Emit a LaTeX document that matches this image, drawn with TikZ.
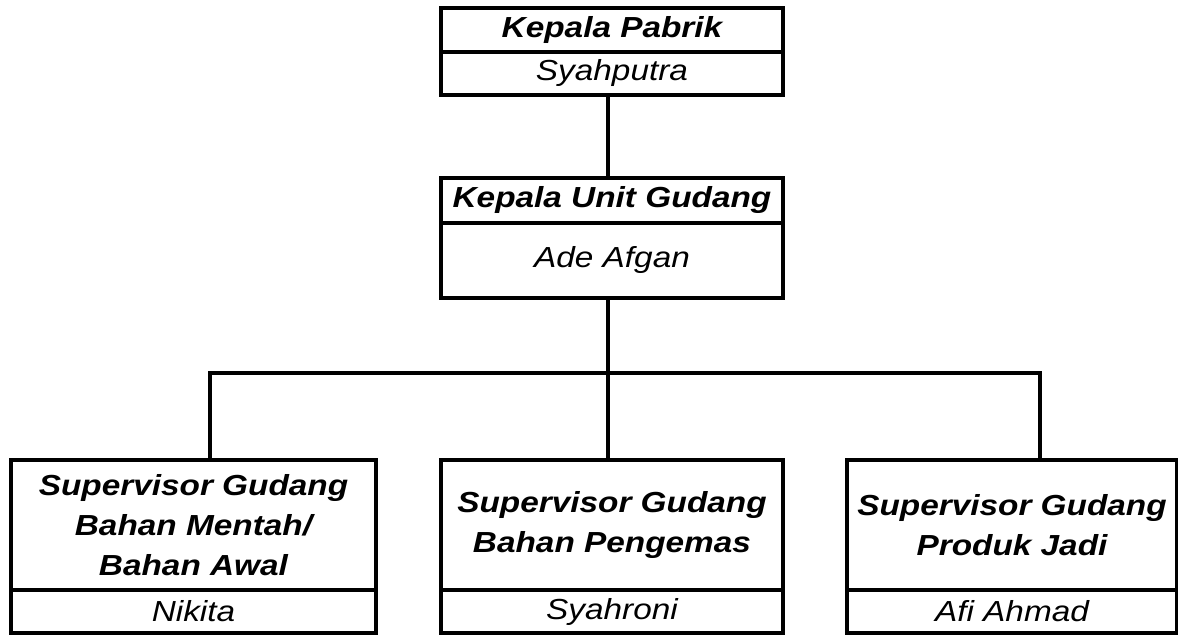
\documentclass[tikz,border=0pt]{standalone}
\usepackage{fontspec}
\setmainfont{Liberation Sans}[FakeStretch=1.15]
\usetikzlibrary{positioning}

\tikzset{
  cell/.style={draw, rectangle, line width=2.4pt, outer sep=0pt, inner sep=0pt, align=center},
  jabatan/.style={cell, font=\fontsize{14.5}{20}\selectfont\bfseries\itshape},
  nama/.style={cell, font=\fontsize{14.5}{20}\selectfont\itshape},
  garis/.style={line width=2.4pt}
}

\begin{document}
\begin{tikzpicture}[x=0.5pt,y=-0.5pt]
        \useasboundingbox (0,0) rectangle (1178,636);
        % Struktur organisasi gudang
        \node[jabatan, minimum width=171pt, minimum height=22pt] (kp) at (612,30) {Kepala Pabrik};
        \node[nama, minimum width=171pt, minimum height=21.5pt, below=0pt of kp] (kpNama) {Syahputra};
        \node[jabatan, minimum width=171pt, minimum height=22.5pt] (ku) at (612,200.5) {Kepala Unit Gudang};
        \node[nama, minimum width=171pt, minimum height=37.5pt, below=0pt of ku] (kuNama) {Ade Afgan};

        \node[jabatan, minimum width=182.5pt, minimum height=65pt] (spvA) at (193.5,525) {Supervisor Gudang\\Bahan Mentah/\\Bahan Awal};
        \node[nama, minimum width=182.5pt, minimum height=21.5pt, below=0pt of spvA] (spvANama) {Nikita};
        \node[jabatan, minimum width=171pt, minimum height=65pt] (spvB) at (612,525) {Supervisor Gudang\\Bahan Pengemas};
        \node[nama, minimum width=171pt, minimum height=21.5pt, below=0pt of spvB] (spvBNama) {Syahroni};
        \node[jabatan, minimum width=165pt, minimum height=65pt] (spvC) at (1012,525) {Supervisor Gudang\\Produk Jadi};
        \node[nama, minimum width=165pt, minimum height=21.5pt, below=0pt of spvC] (spvCNama) {Afi Ahmad};

        % Garis penghubung
        \coordinate (busA) at (210,373);
        \coordinate (busC) at (1040,373);
        \draw[garis] ([xshift=-2pt]kpNama.south) -- ([xshift=-2pt]ku.north);
        \draw[garis] ([xshift=-2pt]kuNama.south) -- ([xshift=-2pt]spvB.north);
        \draw[garis] (busA |- spvA.north) -- (busA) -- (busC) -- (busC |- spvC.north);
\end{tikzpicture}
\end{document}
